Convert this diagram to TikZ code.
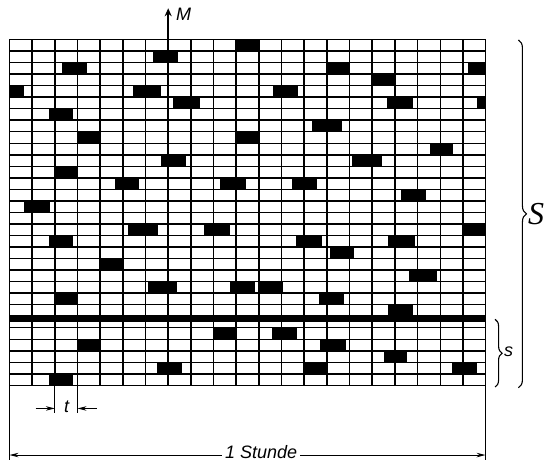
\documentclass[tikz,border=0pt]{standalone}
\usepackage{fontspec}
\setmainfont{Liberation Sans}
\newfontfamily\serifS{Liberation Serif}
\usetikzlibrary{arrows.meta,decorations.pathreplacing,calc}

\begin{document}
\begin{tikzpicture}[x=22.67pt, y=-11.53pt,
  gridline/.style={line width=1.45pt},
  sepline/.style={line width=5.5pt},
  slot/.style={fill=black},
  extline/.style={line width=1.1pt},
  dimline/.style={line width=1pt, -{Stealth[length=9pt,width=4.5pt]}},
  lbl/.style={font=\fontsize{18}{18}\selectfont\itshape, inner sep=1pt},
  bracket/.style={decorate, decoration={brace, amplitude=#1}, line width=1.1pt}]

  \useasboundingbox (-0.419,-3.426) rectangle (23.71,36.64);

  % belegte Zeitabschnitte (Anfang/Ende in Spalten, Zeile von oben)
  \foreach \a/\b/\r in {9.95/10.97/1, 6.32/7.45/2,
      2.30/3.43/3, 13.99/14.99/3, 20.24/21/3, 16.01/17.00/4,
      0/0.64/5, 5.46/6.68/5, 11.64/12.74/5,
      7.23/8.40/6, 16.67/17.78/6, 20.61/21/6,
      1.76/2.79/7, 13.33/14.65/8, 2.99/3.99/9, 9.95/10.97/9,
      18.55/19.58/10, 6.68/7.79/11, 15.09/16.42/11, 2.01/2.99/12,
      4.65/5.73/13, 9.29/10.43/13, 12.45/13.58/13,
      17.27/18.37/14, 0.64/1.79/15,
      5.21/6.56/17, 8.58/9.73/17, 20.02/21/17,
      1.76/2.81/18, 12.64/13.77/18, 16.68/17.89/18,
      14.14/15.21/19, 3.99/5.02/20, 17.64/18.87/21,
      6.12/7.38/22, 9.73/10.83/22, 11.02/12.05/22,
      2.01/2.99/23, 13.67/14.75/23, 16.71/17.80/24,
      9.02/10.02/26, 11.57/12.67/26, 2.99/3.99/27, 13.70/14.84/27,
      16.52/17.52/28, 6.49/7.60/29, 13.03/14.06/29, 19.51/20.61/29,
      1.76/2.81/30}
    \fill[slot] (\a,\r-1) rectangle (\b,\r);

  % Raster
  \foreach \c in {0,...,21}
    \draw[gridline] (\c,0) -- (\c,30);
  \foreach \r in {0,...,30}
    \draw[gridline] (0,\r) -- (21,\r);
  \draw[sepline] (0,24.24) -- (21,24.24);

  % M
  \coordinate (mfoot) at (7,0);
  \coordinate (mtip) at (7,-2.71);
  \draw[gridline, -{Stealth[length=8pt,width=7pt]}] (mfoot) -- (mtip);
  \node[lbl, anchor=west] (mlabel) at (7.3,-2.17) {M};

  % t
  \draw[extline] (2,30) -- (2,32.42);
  \draw[extline] (3,30) -- (3,32.42);
  \coordinate (tleft) at (2,32);
  \coordinate (tright) at (3,32);
  \coordinate (tleftout) at (1.15,32);
  \coordinate (trightout) at (3.85,32);
  \draw[dimline] (tleftout) -- (tleft);
  \draw[dimline] (trightout) -- (tright);
  \node[lbl] (tlabel) at (2.52,31.85) {t};

  % 1 Stunde
  \draw[extline] (0,30) -- (0,36.47);
  \draw[extline] (21,30) -- (21,36.47);
  \coordinate (hleft) at (0,36.04);
  \coordinate (hright) at (21,36.04);
  \node[lbl, inner sep=3pt, yshift=3pt] (stunde) at (11.1,36.04) {1 Stunde};
  \draw[dimline] (stunde.west |- hleft) -- (hleft);
  \draw[dimline] (stunde.east |- hright) -- (hright);

  % S und s
  \coordinate (Stop) at (22.45,0.04);
  \coordinate (Sbottom) at (22.45,30.2);
  \draw[bracket=8pt] (Stop) -- (Sbottom);
  \node[anchor=west, inner sep=0.5pt, font=\serifS\itshape\fontsize{32}{32}\selectfont] (bigS) at (22.85,15.1) {S};
  \coordinate (stop) at (21.42,24.27);
  \coordinate (sbottom) at (21.42,30.14);
  \draw[bracket=7pt] (stop) -- (sbottom);
  \node[lbl, anchor=west, inner sep=0.5pt] (smallS) at (21.79,27.1) {s};
\end{tikzpicture}
\end{document}
